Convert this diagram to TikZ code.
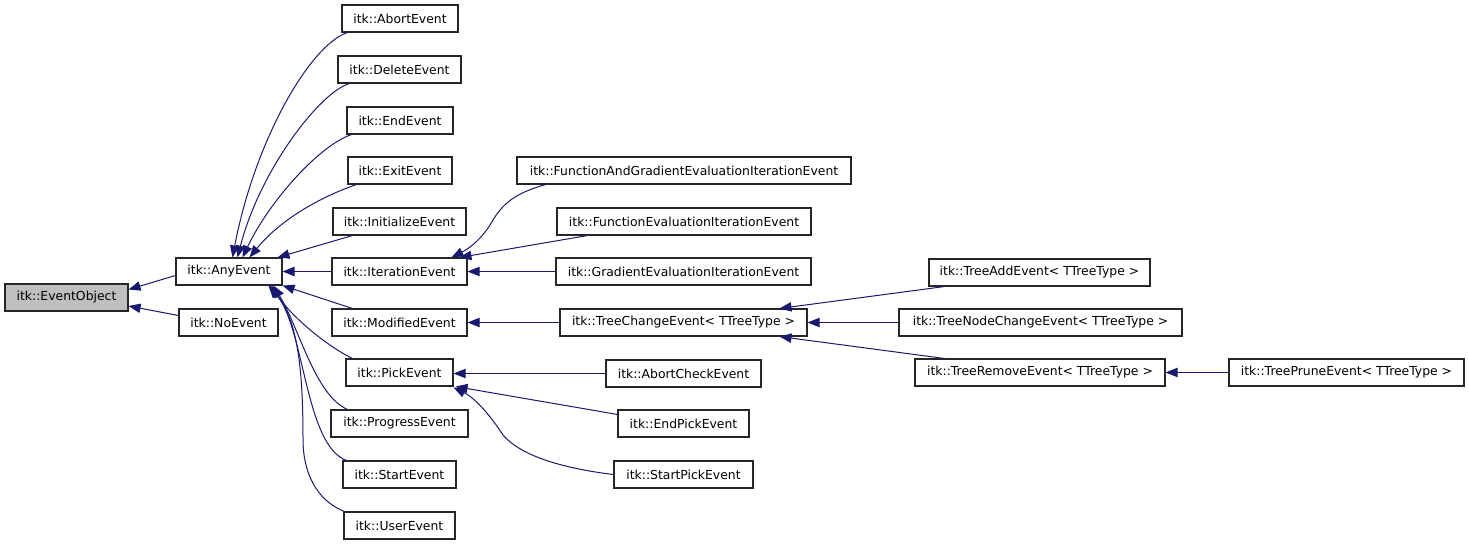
\documentclass[tikz,border=0pt]{standalone}
\usepackage{fontspec}
\setmainfont{DejaVu Sans}
\usetikzlibrary{arrows.meta,calc}
\definecolor{edgeblue}{HTML}{191970}
\definecolor{basegray}{HTML}{BFBFBF}
\tikzset{
  box/.style={draw=black!85, line width=0.8pt, fill=white, inner sep=0pt, font=\fontsize{9.3}{10}\selectfont},
  rootbox/.style={box, fill=basegray},
  edge/.style={draw=edgeblue, line width=0.75pt, -{Triangle[length=9pt,width=7pt]}},
}
\newcommand\mkbox[7]{%
  \pgfmathsetmacro\bw{0.75*(#5-#3)}%
  \pgfmathsetmacro\bh{0.75*(#6-#4)}%
  \node[#1, minimum width=\bw pt, minimum height=\bh pt] (#2) at ({(#3+#5)/2},{(#4+#6)/2}) {#7};}
\begin{document}
\begin{tikzpicture}[x=0.75pt,y=-0.75pt]
\useasboundingbox (0,0) rectangle (1469,544);
% nodes
\mkbox{rootbox}{eo}{5}{284}{128}{311}{itk::EventObject}
\mkbox{box}{any}{176}{258}{282}{285}{itk::AnyEvent}
\mkbox{box}{no}{179}{309}{278}{336}{itk::NoEvent}
\mkbox{box}{abort}{342}{5}{458}{32}{itk::AbortEvent}
\mkbox{box}{delete}{338}{56}{461}{83}{itk::DeleteEvent}
\mkbox{box}{endev}{347}{107}{453}{134}{itk::EndEvent}
\mkbox{box}{exit}{348}{157}{452}{184}{itk::ExitEvent}
\mkbox{box}{init}{333}{208}{466}{235}{itk::InitializeEvent}
\mkbox{box}{iter}{332}{258}{467}{285}{itk::IterationEvent}
\mkbox{box}{mod}{332}{309}{467}{336}{itk::ModifiedEvent}
\mkbox{box}{pick}{346}{359}{453}{386}{itk::PickEvent}
\mkbox{box}{prog}{331}{410}{468}{437}{itk::ProgressEvent}
\mkbox{box}{startev}{343}{461}{456}{488}{itk::StartEvent}
\mkbox{box}{user}{344}{512}{455}{539}{itk::UserEvent}
\mkbox{box}{fag}{517}{157}{851}{184}{itk::FunctionAndGradientEvaluationIterationEvent}
\mkbox{box}{fe}{557}{208}{811}{235}{itk::FunctionEvaluationIterationEvent}
\mkbox{box}{ge}{556}{258}{811}{285}{itk::GradientEvaluationIterationEvent}
\mkbox{box}{tc}{560}{309}{807}{336}{itk::TreeChangeEvent< TTreeType >}
\mkbox{box}{ac}{606}{360}{761}{387}{itk::AbortCheckEvent}
\mkbox{box}{ep}{618}{410}{749}{437}{itk::EndPickEvent}
\mkbox{box}{sp}{614}{461}{753}{488}{itk::StartPickEvent}
\mkbox{box}{ta}{929}{259}{1150}{286}{itk::TreeAddEvent< TTreeType >}
\mkbox{box}{tnc}{899}{309}{1182}{336}{itk::TreeNodeChangeEvent< TTreeType >}
\mkbox{box}{tr}{915}{359}{1165}{386}{itk::TreeRemoveEvent< TTreeType >}
\mkbox{box}{tp}{1229}{359}{1464}{386}{itk::TreePruneEvent< TTreeType >}
% edges
\draw[edge] ($(any.west)+(0,4)$) -- ($(eo.east)+(0,-8)$);
\draw[edge] ($(no.west)+(0,-7)$) -- ($(eo.east)+(0,8.5)$);
\draw[edge] ($(abort.south west)+(6,0)$) .. controls (310,45) and (255,140) .. ($(any.north west)+(57,0)$);
\draw[edge] ($(delete.south west)+(12,0)$) .. controls (320,92) and (260,170) .. ($(any.north west)+(62,0)$);
\draw[edge] ($(endev.south west)+(5,0)$) .. controls (320,145) and (270,200) .. ($(any.north west)+(67,0)$);
\draw[edge] ($(exit.south west)+(9,0)$) .. controls (320,197) and (280,220) .. ($(any.north west)+(74,0)$);
\draw[edge] ($(init.south west)+(20,0)$) -- ($(any.north west)+(102,0)$);
\draw[edge] (iter.west) -- (any.east);
\draw[edge] ($(mod.north west)+(21,0)$) -- (any.south east);
\draw[edge] ($(pick.north west)+(7,0)$) .. controls (325,345) and (290,315) .. ($(any.south west)+(96,0)$);
\draw[edge] ($(prog.north west)+(17,0)$) .. controls (315,395) and (300,330) .. ($(any.south west)+(98,0)$);
\draw[edge] ($(startev.north west)+(4,0)$) .. controls (305,445) and (305,330) .. ($(any.south west)+(94,0)$);
\draw[edge] ($(user.north west)+(1,0)$) .. controls (315,500) and (303,470) .. (303,440) .. controls (303,370) and (298,320) .. ($(any.south west)+(93,0)$);
\draw[edge] ($(fag.south west)+(29,0)$) .. controls (520,192) and (505,200) .. (493,220) .. controls (483,238) and (470,248) .. ($(iter.north west)+(120,0)$);
\draw[edge] ($(fe.south west)+(31,0)$) -- ($(iter.north west)+(128,0)$);
\draw[edge] (ge.west) -- (iter.east);
\draw[edge] (tc.west) -- (mod.east);
\draw[edge] ($(ta.south west)+(16,0)$) -- ($(tc.north west)+(220,0)$);
\draw[edge] (tnc.west) -- (tc.east);
\draw[edge] ($(tr.north west)+(30,0)$) -- ($(tc.south west)+(220,0)$);
\draw[edge] (tp.west) -- (tr.east);
\draw[edge] (ac.west) -- (ac.west -| pick.east);
\draw[edge] ($(ep.north west)+(0,5)$) -- ($(pick.south east)+(2,0)$);
\draw[edge] (sp.west) .. controls (560,468) and (520,455) .. (503,435) .. controls (490,415) and (475,398) .. ($(pick.south east)+(0,1)$);
\end{tikzpicture}
\end{document}
